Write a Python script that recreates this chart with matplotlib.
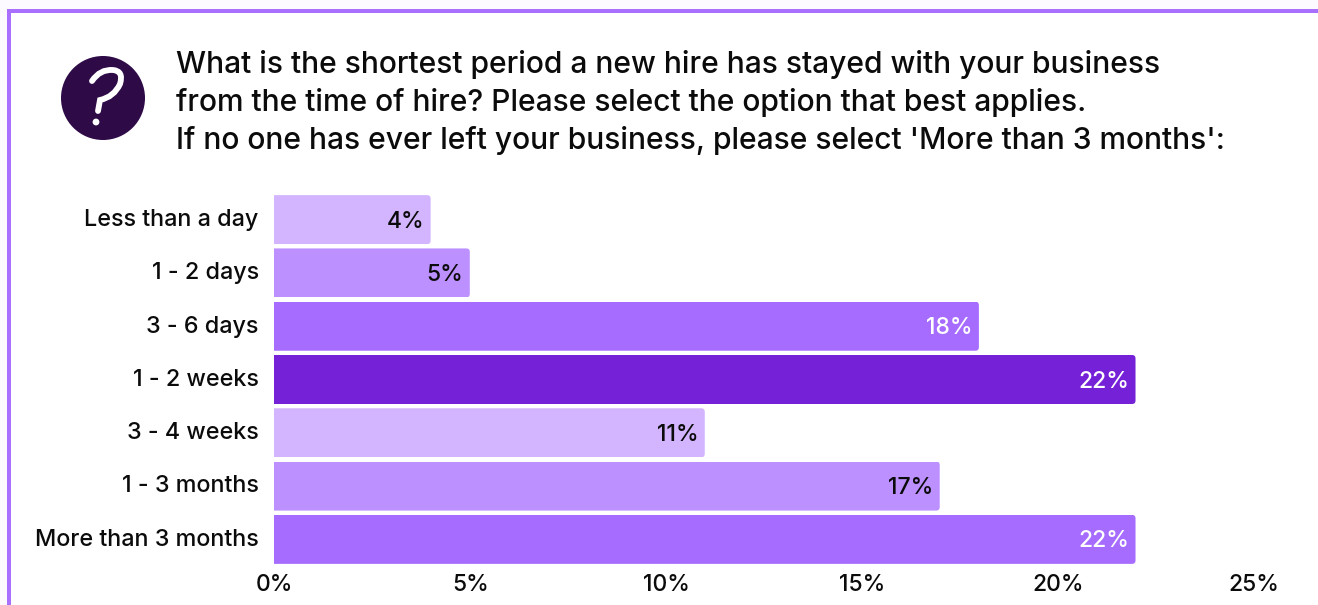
"""
Shortest new-hire tenure survey, horizontal bar chart
"""

import matplotlib
matplotlib.use("Agg")
import matplotlib.pyplot as plt
from matplotlib.patches import Circle, FancyBboxPatch, PathPatch, Rectangle
from matplotlib.path import Path
from matplotlib.transforms import ScaledTranslation

QUESTION = [
    "What is the shortest period a new hire has stayed with your business",
    "from the time of hire? Please select the option that best applies.",
    "If no one has ever left your business, please select 'More than 3 months':",
]
categories = ["Less than a day", "1 - 2 days", "3 - 6 days", "1 - 2 weeks",
              "3 - 4 weeks", "1 - 3 months", "More than 3 months"]
values = [4, 5, 18, 22, 11, 17, 22]
bar_colors = ["#D3B4FF", "#BC90FF", "#A66BFF", "#7521D8", "#D3B4FF", "#BC90FF", "#A66BFF"]
label_colors = ["#0B0B0B", "#0B0B0B", "white", "white", "#0B0B0B", "#0B0B0B", "white"]
x_ticks = [0, 5, 10, 15, 20, 25]

W, H = 1318, 605
FRAME = "#A96FFF"
INK = "#0B0B0B"

plt.rcParams["font.family"] = ["Inter", "DejaVu Sans"]

fig = plt.figure(figsize=(W / 100, H / 100), dpi=100, facecolor="#FDFAFF")

# page layer in pixel coordinates: frame, icon, heading
page = fig.add_axes([0, 0, 1, 1])
page.set_xlim(0, W)
page.set_ylim(H, 0)
page.axis("off")
page.add_patch(Rectangle((7, 9), W - 7, H - 9, fc=FRAME, ec="none"))
page.add_patch(Rectangle((11, 13), W - 11, H - 13, fc="white", ec="none"))

page.add_patch(Circle((103, 98), 42, fc="#2E0A47", ec="none"))
mark = Path([(92, 81), (100, 69), (113, 70), (124, 71), (120, 84), (114, 97), (100, 100), (98, 111)],
            [Path.MOVETO, Path.CURVE3, Path.CURVE3, Path.CURVE3, Path.CURVE3, Path.CURVE3, Path.CURVE3, Path.LINETO])
page.add_patch(PathPatch(mark, fc="none", ec="white", lw=4.2, capstyle="round"))
page.add_patch(Circle((96, 122), 3.4, fc="white", ec="none"))

for y, line in zip([64.5, 102.5, 140.5], QUESTION):
    page.text(176, y, line, fontsize=21.6, fontweight=500, color=INK, va="center", ha="left")

# chart axes, 0-25% spans 274-1253 px
ax = fig.add_axes([274 / W, 1 - 566 / H, (1253 - 274) / W, (566 - 193) / H])
ax.patch.set_alpha(0)
ypos = list(range(len(values)))
bars = ax.barh(ypos, values, height=0.92, color=bar_colors, linewidth=0)
ax.set_xlim(0, 25)
ax.set_ylim(6.5, -0.5)

# round the right-hand corners only, left side runs past the axis and gets cut
for bar, v in zip(bars, values):
    clip = FancyBboxPatch((-1, bar.get_y()), v + 1, bar.get_height(),
                          boxstyle="round,pad=0,rounding_size=0.09",
                          mutation_aspect=0.735, transform=ax.transData)
    bar.set_clip_path(clip)

for y, v, c in zip(ypos, values, label_colors):
    ax.annotate(f"{v}%", (v, y), xytext=(-4.5, -1.5), textcoords="offset points",
                ha="right", va="center", fontsize=16.5, fontweight=500, color=c)

for s in ax.spines.values():
    s.set_visible(False)
ax.set_xticks(x_ticks)
ax.set_xticklabels([f"{t}%" for t in x_ticks])
ax.set_yticks(ypos)
ax.set_yticklabels(categories, fontsize=16.8)
ax.tick_params(axis="x", labelsize=16.5)
ax.tick_params(axis="both", length=0, labelcolor=INK)
ax.tick_params(axis="y", pad=11)
ax.tick_params(axis="x", pad=6)
up = ScaledTranslation(0, 1.5 / 72, fig.dpi_scale_trans)
for lab in ax.get_yticklabels():
    lab.set_fontweight(500)
    lab.set_transform(lab.get_transform() + up)
right = ScaledTranslation(0.5 / 72, 0, fig.dpi_scale_trans)
for lab in ax.get_xticklabels():
    lab.set_fontweight(500)
    lab.set_transform(lab.get_transform() + right)

fig.savefig("out.png", dpi=100, facecolor=fig.get_facecolor())
plt.close()
